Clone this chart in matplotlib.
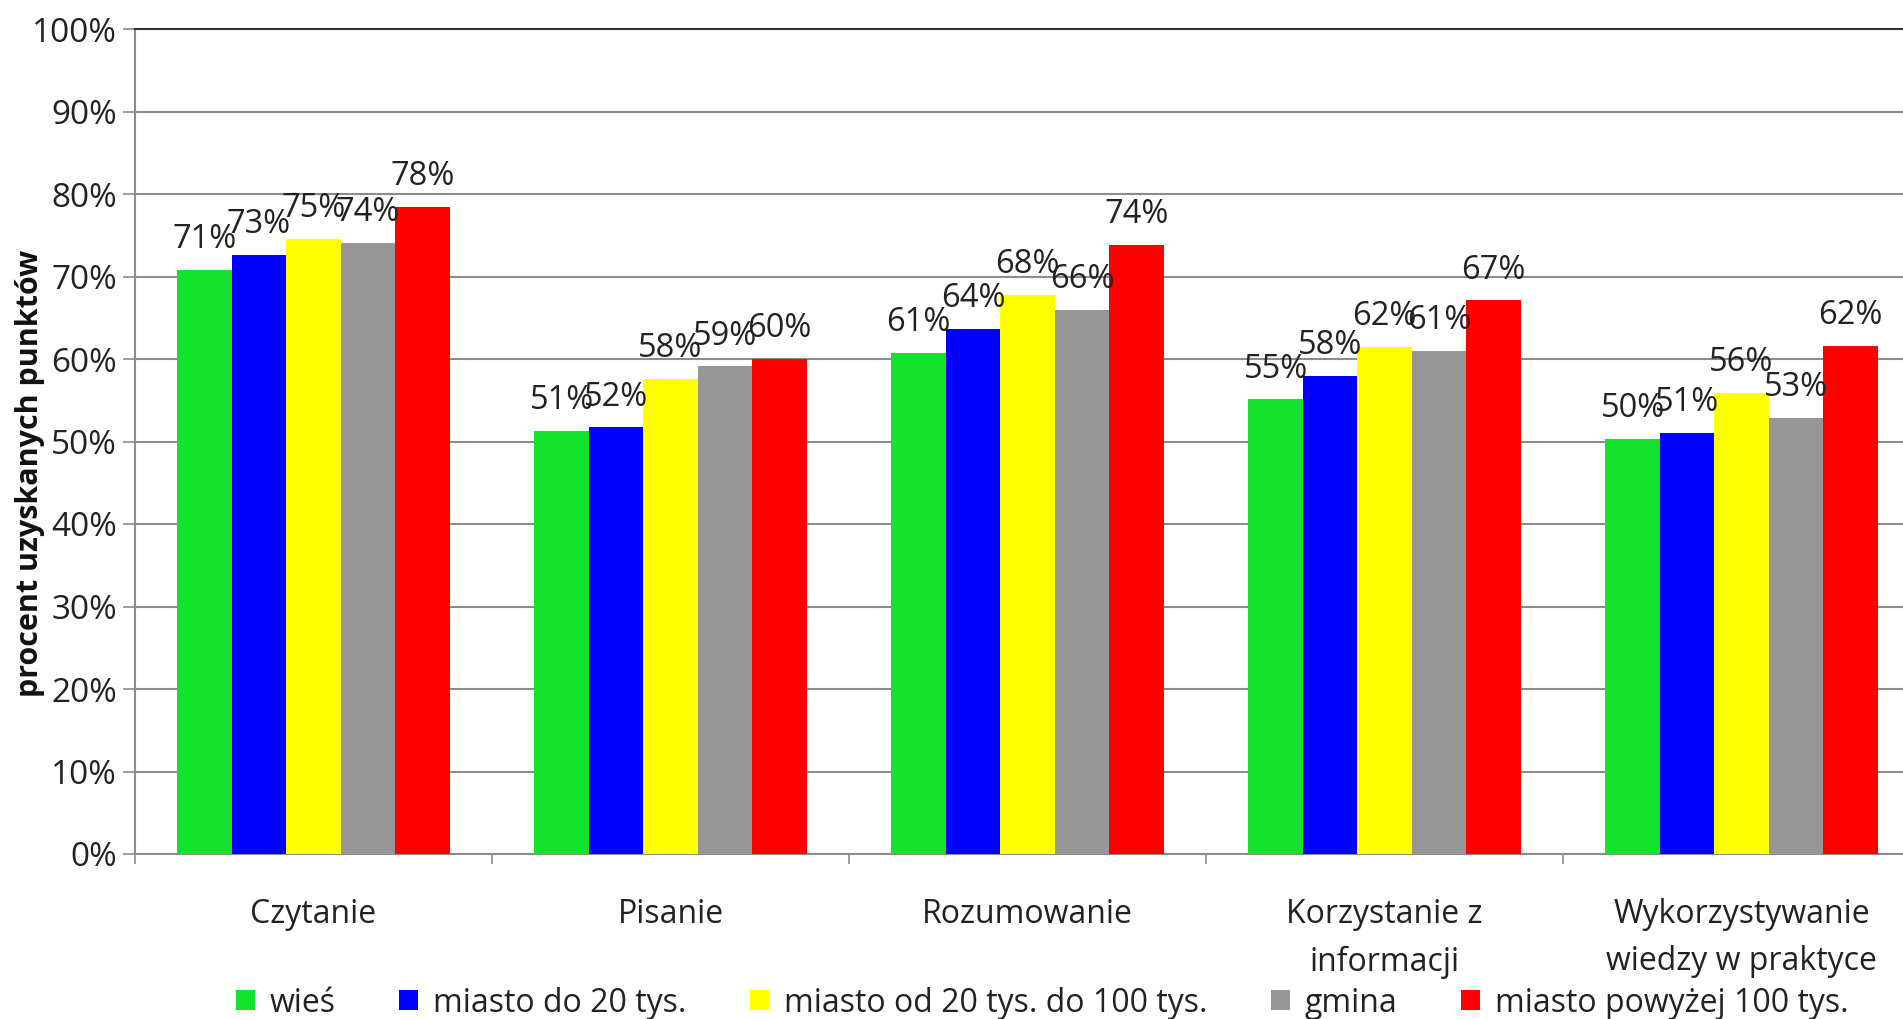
# Wyniki testu wg typu miejscowości - wykres słupkowy

import numpy as np
import matplotlib
matplotlib.use("Agg")
import matplotlib.pyplot as plt

plt.rcParams["font.family"] = ["Open Sans", "DejaVu Sans"]

# Dane
categories = ["Czytanie", "Pisanie", "Rozumowanie",
              "Korzystanie z\ninformacji", "Wykorzystywanie\nwiedzy w praktyce"]
series_names = ["wieś", "miasto do 20 tys.", "miasto od 20 tys. do 100 tys.",
                "gmina", "miasto powyżej 100 tys."]
wies = [70.8, 51.3, 60.7, 55.1, 50.3]
miasto_do_20 = [72.6, 51.7, 63.6, 57.9, 51.0]
miasto_20_100 = [74.6, 57.6, 67.8, 61.5, 55.9]
gmina = [74.1, 59.1, 66.0, 61.0, 52.9]
miasto_pow_100 = [78.4, 60.0, 73.8, 67.1, 61.6]
colors = ["#14e32e", "#0000ff", "#ffff00", "#969696", "#ff0000"]

all_series = [wies, miasto_do_20, miasto_20_100, gmina, miasto_pow_100]

W, H = 1903, 1019
fig = plt.figure(figsize=(W / 100, H / 100), dpi=100)
ax = fig.add_axes([135 / W, 1 - 854 / H, 1785 / W, 825 / H])

x = np.arange(len(categories))
bar_w = 0.1525
handles = []
for i, (vals, col, name) in enumerate(zip(all_series, colors, series_names)):
    bars = ax.bar(x + (i - 2) * bar_w, vals, bar_w, color=col, label=name, zorder=3)
    ax.bar_label(bars, labels=[f"{round(v):.0f}%" for v in vals],
                 padding=10, fontsize=23.5, color="#222222", zorder=4)
    handles.append(bars)

# osie
ax.set_xlim(-0.5, len(categories) - 0.5)
ax.set_ylim(0, 100)
ax.set_yticks(np.arange(0, 101, 10))
ax.set_yticklabels([f"{v}%" for v in range(0, 101, 10)], fontsize=24, color="#222222")
ax.yaxis.grid(True, color="#8c8c8c", linewidth=1.5, zorder=0)
ax.tick_params(axis="y", length=9, width=1.2, color="#8c8c8c", pad=4)

ax.set_xticks(np.arange(-0.5, len(categories), 1.0))
ax.set_xticklabels([])
ax.tick_params(axis="x", which="major", length=7, width=1.2, color="#8c8c8c")
ax.set_xticks(x, categories, minor=True)
ax.tick_params(axis="x", which="minor", length=0, pad=32, labelsize=23,
               labelcolor="#222222")
for lbl in ax.get_xticklabels(minor=True):
    lbl.set_linespacing(1.55)

for side in ["left", "bottom"]:
    ax.spines[side].set_color("#8c8c8c")
    ax.spines[side].set_linewidth(1.5)
ax.spines["top"].set_color("#333333")
ax.spines["top"].set_linewidth(1.5)
ax.spines["right"].set_visible(False)

fig.text(30 / W, 1 - 473 / H, "procent uzyskanych punktów", rotation=90,
         fontsize=22, fontweight="bold", ha="center", va="center", color="#111111")

fig.legend(handles=handles, labels=series_names, loc="center",
           bbox_to_anchor=(1042 / W, 1 - 1003 / H), ncol=5, frameon=False,
           fontsize=23, handlelength=0.6, handleheight=0.6, handletextpad=0.45,
           columnspacing=2.0, labelcolor="#222222")

fig.savefig("out.png", dpi=100)
